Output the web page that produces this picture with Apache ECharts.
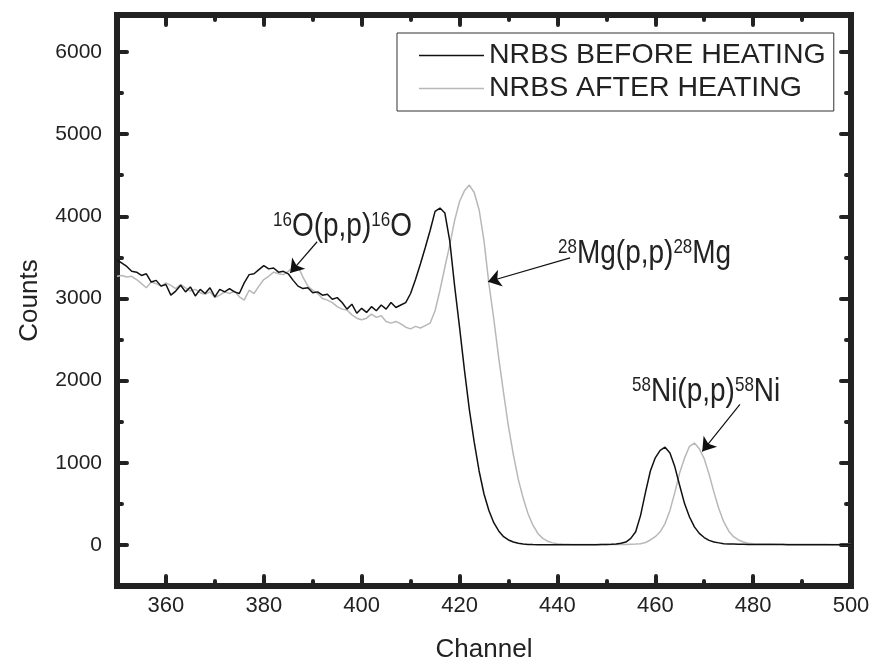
<!DOCTYPE html>
<html><head><meta charset="utf-8">
<script src="https://cdn.jsdelivr.net/npm/echarts@6.0.0/dist/echarts.min.js"></script>
<style>html,body{margin:0;padding:0;background:#fff}#c{width:875px;height:669px}</style>
</head><body><div id="c"></div>
<script>
// ---- data ----
const channelStart = 350;
const channelEnd = 500;
const seriesNames = ['NRBS BEFORE HEATING', 'NRBS AFTER HEATING'];
const beforeHeating = [
  3470,3430,3390,3330,3320,3280,3300,3200,3220,3150,
  3170,3040,3090,3160,3080,3140,3030,3110,3060,3130,
  3020,3110,3080,3120,3080,3060,3190,3290,3300,3350,
  3400,3360,3370,3320,3330,3300,3220,3150,3120,3130,
  3070,3080,3040,3050,2990,3010,2950,2870,2930,2820,
  2880,2830,2900,2850,2920,2870,2950,2890,2920,2950,
  3060,3230,3420,3620,3830,4060,4100,4040,3700,3150,
  2650,2130,1650,1250,900,620,420,270,170,100,
  60,35,20,10,6,4,3,2,2,2,
  1,1,1,1,1,2,2,2,3,4,
  5,8,12,20,35,80,160,360,640,900,
  1060,1150,1190,1120,950,720,500,340,220,140,
  90,55,35,25,15,12,10,8,8,6,
  6,5,5,5,4,4,4,3,3,3,
  3,3,3,2,2,2,2,2,2,2,2
];
const afterHeating = [
  3270,3280,3260,3270,3230,3180,3130,3200,3180,3150,
  3190,3160,3120,3170,3130,3090,3110,3070,3050,3080,
  3010,3040,3080,3060,3090,3020,2980,3100,3060,3150,
  3230,3270,3320,3300,3290,3330,3380,3390,3260,3150,
  3100,3060,3000,2980,2950,2900,2870,2860,2800,2760,
  2740,2760,2810,2770,2790,2720,2700,2720,2690,2650,
  2630,2660,2640,2670,2700,2850,3100,3380,3650,3950,
  4180,4310,4380,4290,4080,3700,3180,2750,2280,1850,
  1440,1100,800,570,380,240,140,80,45,25,
  15,10,8,6,5,5,5,5,5,5,
  5,5,5,5,6,8,10,15,30,60,
  100,160,260,420,640,880,1060,1200,1240,1170,
  1050,860,640,440,280,170,100,60,35,20,
  15,12,10,10,10,8,8,8,8,8,
  8,8,7,7,7,7,6,6,6,6,6
];
const xMajorTicks = [360,380,400,420,440,460,480,500];
const xMinorTicks = [370,390,410,430,450,470,490];
const yMajorTicks = [0,1000,2000,3000,4000,5000,6000];
const yMinorTicks = [500,1500,2500,3500,4500,5500];
// annotation arrows: [from channel, from counts, to channel, to counts]
const arrowO  = [390.9, 3690, 385.4, 3310];
const arrowMg = [442.6, 3494, 425.8, 3203];
const arrowNi = [477.3, 1710, 469.6, 1138];

// ---- build ----
const channels = [];
for (let c = channelStart; c <= channelEnd; c++) channels.push(c);
const pairs = vals => channels.map((c, i) => [c, vals[i]]);

const FR = '"Liberation Sans",Arial,Helvetica,sans-serif';
const INK = '#222';

function xAx(pos, ticks, len, extra) {
  return Object.assign({
    type: 'value', position: pos, min: 350, max: 500,
    axisLine: { show: true, onZero: false, lineStyle: { color: INK, width: 6, cap: 'square' } },
    axisTick: { show: true, inside: true, length: len, customValues: ticks, lineStyle: { color: INK, width: 4, cap: 'round' } },
    axisLabel: { show: false },
    splitLine: { show: false }
  }, extra || {});
}
function yAx(pos, ticks, len, extra) {
  return Object.assign({
    type: 'value', position: pos, min: -500, max: 6450,
    axisLine: { show: true, onZero: false, lineStyle: { color: INK, width: 6, cap: 'square' } },
    axisTick: { show: true, inside: true, length: len, customValues: ticks, lineStyle: { color: INK, width: 4, cap: 'round' } },
    axisLabel: { show: false },
    splitLine: { show: false }
  }, extra || {});
}

const arrowLine = a => [{ coord: [a[0], a[1]] }, { coord: [a[2], a[3]] }];
const richStyle = {
  n: { fontFamily: FR, fontSize: 28, fill: INK },
  s: { fontFamily: FR, fontSize: 17, fill: INK, verticalAlign: 'top' }
};
const annot = (x, y, text) => ({
  type: 'text', x: x, y: y, scaleY: 1.2,
  style: { text: text, verticalAlign: 'middle', align: 'left', rich: richStyle }
});

const option = {
  animation: false,
  backgroundColor: '#fff',
  grid: { left: 117, right: 24, top: 15, bottom: 83 },
  xAxis: [
    xAx('bottom', xMajorTicks, 10, {
      axisLabel: { show: true, customValues: xMajorTicks, fontFamily: FR, fontSize: 22, color: INK, margin: 9 },
      name: 'Channel', nameLocation: 'middle', nameGap: 51,
      nameTextStyle: { fontFamily: FR, fontSize: 26, color: INK }
    }),
    xAx('top', xMajorTicks, 10),
    xAx('bottom', xMinorTicks, 5),
    xAx('top', xMinorTicks, 5)
  ],
  yAxis: [
    yAx('left', yMajorTicks, 10, {
      axisLabel: { show: true, customValues: yMajorTicks, fontFamily: FR, fontSize: 21, color: INK, margin: 15,
        formatter: v => String(v) },
      name: 'Counts', nameLocation: 'middle', nameGap: 74,
      nameTextStyle: { fontFamily: FR, fontSize: 26, color: INK }
    }),
    yAx('right', yMajorTicks, 10),
    yAx('left', yMinorTicks, 5),
    yAx('right', yMinorTicks, 5)
  ],
  legend: {
    data: seriesNames,
    orient: 'vertical',
    left: 397, top: 33,
    icon: 'rect', itemWidth: 65, itemHeight: 1.5, itemGap: 0,
    padding: [6, 8, 6, 22],
    borderColor: '#333', borderWidth: 1, backgroundColor: '#fff',
    textStyle: { fontFamily: FR, fontSize: 28.5, color: INK, lineHeight: 33 }
  },
  series: [
    {
      name: seriesNames[1], type: 'line', data: pairs(afterHeating),
      showSymbol: false, symbol: 'none', z: 2,
      lineStyle: { color: '#b8b8b8', width: 1.5 }, itemStyle: { color: '#b8b8b8' }
    },
    {
      name: seriesNames[0], type: 'line', data: pairs(beforeHeating),
      showSymbol: false, symbol: 'none', z: 3,
      lineStyle: { color: '#111', width: 1.5 }, itemStyle: { color: '#111' },
      markLine: {
        silent: true, animation: false,
        symbol: ['none', 'arrow'], symbolSize: 13,
        label: { show: false },
        lineStyle: { color: '#111', width: 1.2, type: 'solid' },
        data: [arrowLine(arrowO), arrowLine(arrowMg), arrowLine(arrowNi)]
      }
    }
  ],
  graphic: [
    annot(273, 227, '{s|16}{n|O(p,p)}{s|16}{n|O}'),
    annot(558, 254, '{s|28}{n|Mg(p,p)}{s|28}{n|Mg}'),
    annot(632, 392, '{s|58}{n|Ni(p,p)}{s|58}{n|Ni}')
  ]
};
echarts.init(document.getElementById('c'), null, { renderer: 'canvas' }).setOption(option);
</script>
</body></html>
